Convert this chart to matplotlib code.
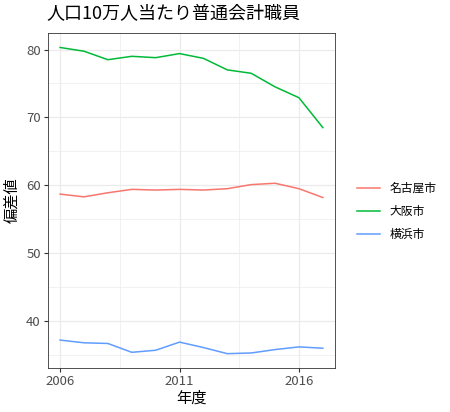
import matplotlib
matplotlib.use("Agg")
import matplotlib.pyplot as plt

plt.rcParams['font.family'] = ['Noto Sans CJK JP', 'DejaVu Sans']

years = list(range(2006, 2018))
nagoya = [58.7, 58.3, 58.9, 59.4, 59.3, 59.4, 59.3, 59.5, 60.1, 60.3, 59.5, 58.2]
osaka = [80.3, 79.75, 78.5, 79.0, 78.8, 79.4, 78.7, 77.0, 76.5, 74.5, 72.9, 68.5]
yokohama = [37.2, 36.8, 36.7, 35.4, 35.7, 36.9, 36.1, 35.2, 35.3, 35.8, 36.2, 36.0]
series = [("名古屋市", nagoya, "#F8766D"),
          ("大阪市", osaka, "#00BA38"),
          ("横浜市", yokohama, "#619CFF")]

fig = plt.figure(figsize=(4.5, 4.12), dpi=100)
ax = fig.add_axes([0.106, 0.107, 0.639, 0.814])

for name, vals, col in series:
    ax.plot(years, vals, color=col, lw=1.1, label=name)

ax.set_xlim(2005.48, 2017.52)
ax.set_ylim(33.1, 82.5)
ax.set_xticks([2006, 2011, 2016])
ax.set_xticks([2008.5, 2013.5], minor=True)
ax.set_yticks([40, 50, 60, 70, 80])
ax.set_yticks([35, 45, 55, 65, 75], minor=True)
ax.grid(which='major', color='#EBEBEB', lw=0.9)
ax.grid(which='minor', color='#EBEBEB', lw=0.5)
ax.set_axisbelow(True)
ax.tick_params(which='major', length=3, color='#333333', labelsize=9.5, labelcolor='#4D4D4D', pad=2)
ax.tick_params(which='minor', length=0)
for s in ax.spines.values():
    s.set_color('#333333')
    s.set_linewidth(0.6)

ax.set_xlabel('年度', fontsize=11, labelpad=1)
ax.set_ylabel('偏差値', fontsize=11, labelpad=4)
fig.text(0.104, 0.945, '人口10万人当たり普通会計職員', fontsize=13, ha='left', va='bottom')

leg = ax.legend(loc='center left', bbox_to_anchor=(1.04, 0.467), frameon=False,
                fontsize=8.5, handlelength=1.9, labelspacing=0.85, borderaxespad=0.5)

fig.savefig('out.png', dpi=100)
